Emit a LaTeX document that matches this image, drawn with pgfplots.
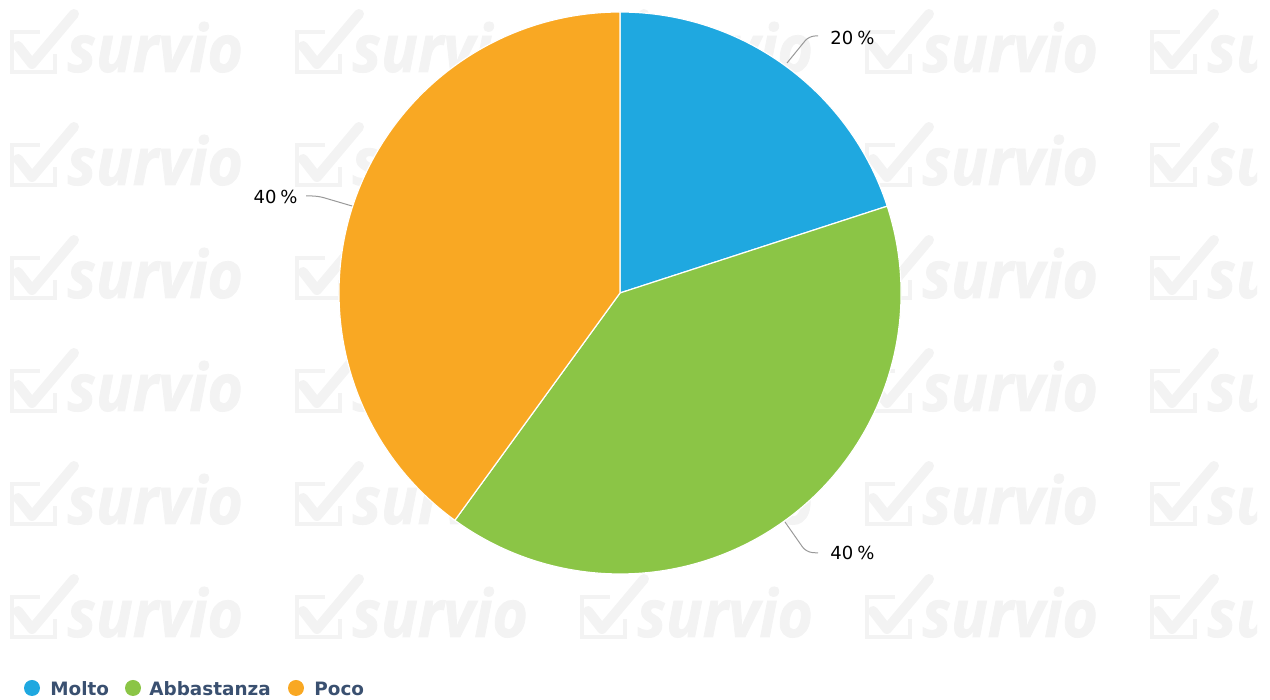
\documentclass[border=0pt]{standalone}
\usepackage{pgfplots}
\pgfplotsset{compat=1.18}
\usepackage{pgfplotstable}
\usepackage{fontspec}
\setmainfont{DejaVu Sans}
\newfontfamily\wmfont{Open Sans}[BoldItalicFeatures={FakeBold=1.2}]
\definecolor{cMolto}{RGB}{31,168,224}
\definecolor{cAbba}{RGB}{139,197,70}
\definecolor{cPoco}{RGB}{249,168,35}
\definecolor{wm}{RGB}{243,243,243}
\definecolor{legtext}{RGB}{58,80,112}
\definecolor{conn}{RGB}{153,153,153}
\pgfplotstableread{
label value
Molto 20
Abbastanza 40
Poco 40
}\piedata
\pgfplotstablegetelem{0}{value}\of\piedata\edef\vA{\pgfplotsretval}
\pgfplotstablegetelem{1}{value}\of\piedata\edef\vB{\pgfplotsretval}
\pgfplotstablegetelem{2}{value}\of\piedata\edef\vC{\pgfplotsretval}
\pgfmathsetmacro\aA{90}
\pgfmathsetmacro\aB{\aA-3.6*\vA}
\pgfmathsetmacro\aC{\aB-3.6*\vB}
\pgfmathsetmacro\aD{\aC-3.6*\vC}
\begin{document}%
\begin{tikzpicture}
% watermark (background decoration)
\begin{scope}[x=0.5pt,y=0.5pt]
\clip (0,0) rectangle (1257,700);
\foreach \c in {0,...,4}{
  \foreach \r in {0,...,5}{
    \pgfmathsetmacro\X{10+285*\c}
    \pgfmathsetmacro\Y{700-(72+113*\r)}
    \draw[wm, line width=2pt] (\X+30,\Y+40) -- (\X+2,\Y+40) -- (\X+2,\Y) -- (\X+45,\Y) -- (\X+45,\Y+18);
    \draw[wm, line width=5pt, line cap=round, line join=round] (\X+8,\Y+26) -- (\X+22,\Y+8) -- (\X+64,\Y+58);
    \node[anchor=base west, inner sep=0pt, text=wm, font=\wmfont\bfseries\itshape\fontsize{33pt}{33pt}\selectfont, xscale=0.92] at (\X+57,\Y) {survio};
  }
}
\end{scope}
\begin{axis}[name=ax, x=0.5pt, y=0.5pt, xmin=0, xmax=1270, ymin=0, ymax=700,
  hide axis, scale only axis, clip=false]
\addplot[draw=none] coordinates {(0,0)};
% pie slices from the table values
\fill[cMolto, draw=white, line width=0.6pt] (axis cs:620,407) -- ++(\aA:140.5pt) arc[start angle=\aA, end angle=\aB, radius=140.5pt] -- cycle;
\fill[cAbba, draw=white, line width=0.6pt] (axis cs:620,407) -- ++(\aB:140.5pt) arc[start angle=\aB, end angle=\aC, radius=140.5pt] -- cycle;
\fill[cPoco, draw=white, line width=0.6pt] (axis cs:620,407) -- ++(\aC:140.5pt) arc[start angle=\aC, end angle=\aD, radius=140.5pt] -- cycle;
% connectors
\draw[conn, line width=0.5pt, rounded corners=3pt] (axis cs:787,637) -- (axis cs:809,664) -- (axis cs:818,664);
\draw[conn, line width=0.5pt, rounded corners=3pt] (axis cs:785,178) -- (axis cs:806,148) -- (axis cs:818,147);
\draw[conn, line width=0.5pt, rounded corners=3pt] (axis cs:352,494) -- (axis cs:318,504) -- (axis cs:306,504);
% data labels
\node[anchor=base west, inner sep=0pt, font=\fontsize{9pt}{9pt}\selectfont] at (axis cs:830,655) {\vA\kern2pt\%};
\node[anchor=base west, inner sep=0pt, font=\fontsize{9pt}{9pt}\selectfont] at (axis cs:830,140) {\vB\kern2pt\%};
\node[anchor=base east, inner sep=0pt, font=\fontsize{9pt}{9pt}\selectfont] at (axis cs:298,496) {\vC\kern2pt\%};
% legend
\fill[cMolto] (axis cs:32,12) circle[radius=4pt];
\fill[cAbba] (axis cs:133,12) circle[radius=4pt];
\fill[cPoco] (axis cs:296,12) circle[radius=4pt];
\node[anchor=base west, inner sep=0pt, text=legtext, font=\bfseries\fontsize{9.2pt}{9.2pt}\selectfont] at (axis cs:50,4) {Molto};
\node[anchor=base west, inner sep=0pt, text=legtext, font=\bfseries\fontsize{9.2pt}{9.2pt}\selectfont] at (axis cs:149,4) {Abbastanza};
\node[anchor=base west, inner sep=0pt, text=legtext, font=\bfseries\fontsize{9.2pt}{9.2pt}\selectfont] at (axis cs:314,4) {Poco};
\end{axis}
\pgfresetboundingbox
\useasboundingbox (0,0) rectangle (635pt,350pt);
\end{tikzpicture}%
\end{document}
